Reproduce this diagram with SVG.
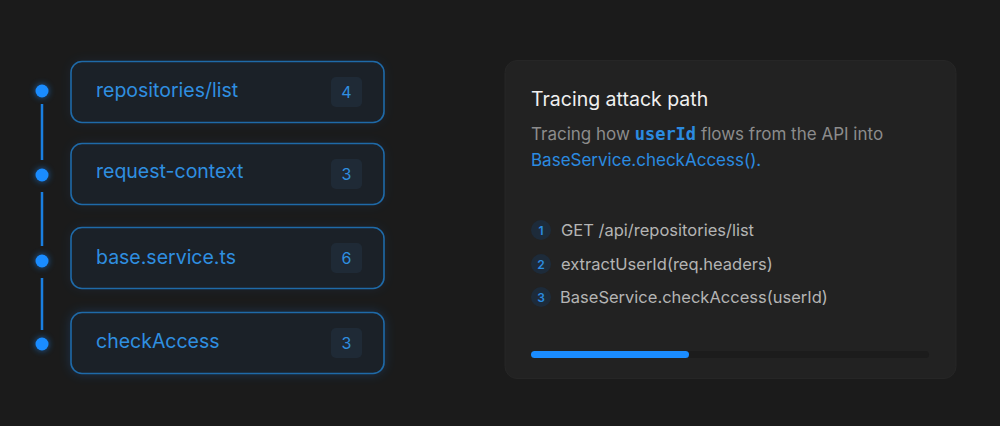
<svg xmlns="http://www.w3.org/2000/svg" width="1000" height="426" viewBox="0 0 1000 426">
<defs>
<filter id="glow" x="-20%" y="-40%" width="140%" height="180%"><feGaussianBlur stdDeviation="6"/></filter>
<filter id="dglow" x="-100%" y="-100%" width="300%" height="300%"><feGaussianBlur stdDeviation="3"/></filter>
<style>
.box{fill:#1b2128;stroke:#1f6aa8;stroke-width:1.6}
.lbl{font-family:Inter,"Liberation Sans",sans-serif;font-size:19.5px;fill:#2f8fe0}
.badge{fill:#1f2a36}
.bnum{font-family:Inter,"Liberation Sans",sans-serif;font-size:16px;fill:#2f8fe0;text-anchor:middle}
.dot{fill:#1a8cff}
.ln{stroke:#1a7fe0;stroke-width:2.5}
.step{font-family:Inter,"Liberation Sans",sans-serif;font-size:16.5px;fill:#b4b4b4}
.sc{fill:#1d2b3a}
.sn{font-family:Inter,"Liberation Sans",sans-serif;font-size:12px;fill:#2b8be0;text-anchor:middle;font-weight:600}
</style>
</defs>
<rect width="1000" height="426" fill="#1b1b1b"/>
<g id="connectors">
<line class="ln" x1="42" y1="104" x2="42" y2="160"/>
<line class="ln" x1="42" y1="192" x2="42" y2="246"/>
<line class="ln" x1="42" y1="278" x2="42" y2="330"/>
</g>
<g id="node-1">
<rect x="71" y="61.5" width="313" height="61" rx="11" fill="#1c6fd0" opacity="0.12" filter="url(#glow)"/>
<rect class="box" x="71" y="61.5" width="313" height="61" rx="11" fill="#1d1f22"/>
<circle cx="42" cy="91" r="7" fill="#1a8cff" opacity="0.5" filter="url(#dglow)"/>
<circle class="dot" cx="42" cy="91" r="6.5"/>
<text class="lbl" x="96" y="97">repositories/list</text>
<rect class="badge" x="331" y="77" width="31" height="30" rx="5"/>
<text class="bnum" x="346.5" y="97.5">4</text>
</g>
<g id="node-2">
<rect x="71" y="143.5" width="313" height="61" rx="11" fill="#1c6fd0" opacity="0.12" filter="url(#glow)"/>
<rect class="box" x="71" y="143.5" width="313" height="61" rx="11"/>
<circle cx="42" cy="175" r="7" fill="#1a8cff" opacity="0.5" filter="url(#dglow)"/>
<circle class="dot" cx="42" cy="175" r="6.5"/>
<text class="lbl" x="96" y="178">request-context</text>
<rect class="badge" x="331" y="159" width="31" height="30" rx="5"/>
<text class="bnum" x="346.5" y="180">3</text>
</g>
<g id="node-3">
<rect x="71" y="227.5" width="313" height="61" rx="11" fill="#1c6fd0" opacity="0.12" filter="url(#glow)"/>
<rect class="box" x="71" y="227.5" width="313" height="61" rx="11"/>
<circle cx="42" cy="261" r="7" fill="#1a8cff" opacity="0.5" filter="url(#dglow)"/>
<circle class="dot" cx="42" cy="261" r="6.5"/>
<text class="lbl" x="96" y="264">base.service.ts</text>
<rect class="badge" x="331" y="243" width="31" height="30" rx="5"/>
<text class="bnum" x="346.5" y="264">6</text>
</g>
<g id="node-4">
<rect x="71" y="312.5" width="313" height="61" rx="11" fill="#1c6fd0" opacity="0.3" filter="url(#glow)"/>
<rect class="box" x="71" y="312.5" width="313" height="61" rx="11" fill="#1a222b" stroke="#2178c0"/>
<circle cx="42" cy="344" r="7" fill="#1a8cff" opacity="0.5" filter="url(#dglow)"/>
<circle class="dot" cx="42" cy="344" r="6.5"/>
<text class="lbl" x="96" y="348">checkAccess</text>
<rect class="badge" x="331" y="328" width="31" height="30" rx="5"/>
<text class="bnum" x="346.5" y="349">3</text>
</g>
<g id="panel">
<rect x="505" y="60.5" width="451" height="318" rx="12" fill="#222222" stroke="#262626"/>
<text x="531" y="106" font-family="Inter,'Liberation Sans',sans-serif" font-size="19.5px" fill="#f0f0f0">Tracing attack path</text>
<text x="531" y="140" font-family="Inter,'Liberation Sans',sans-serif" font-size="17px" fill="#8c8c8c">Tracing how <tspan font-family="'DejaVu Sans Mono',monospace" font-weight="bold" fill="#2b8be0">userId</tspan> flows from the API into</text>
<text x="531" y="166" font-family="Inter,'Liberation Sans',sans-serif" font-size="17px" fill="#2b8be0">BaseService.checkAccess().</text>
<circle class="sc" cx="541" cy="230" r="10"/>
<text class="sn" x="541" y="234.5">1</text>
<text class="step" x="561" y="236">GET /api/repositories/list</text>
<circle class="sc" cx="541" cy="264" r="10"/>
<text class="sn" x="541" y="268.5">2</text>
<text class="step" x="561" y="270">extractUserId(req.headers)</text>
<circle class="sc" cx="541" cy="297" r="10"/>
<text class="sn" x="541" y="301.5">3</text>
<text class="step" x="560" y="303">BaseService.checkAccess(userId)</text>
<rect x="531" y="351" width="398" height="7" rx="3.5" fill="#1c1c1c"/>
<rect x="531" y="351" width="158" height="7" rx="3.5" fill="#1a8cff"/>
</g>
</svg>
